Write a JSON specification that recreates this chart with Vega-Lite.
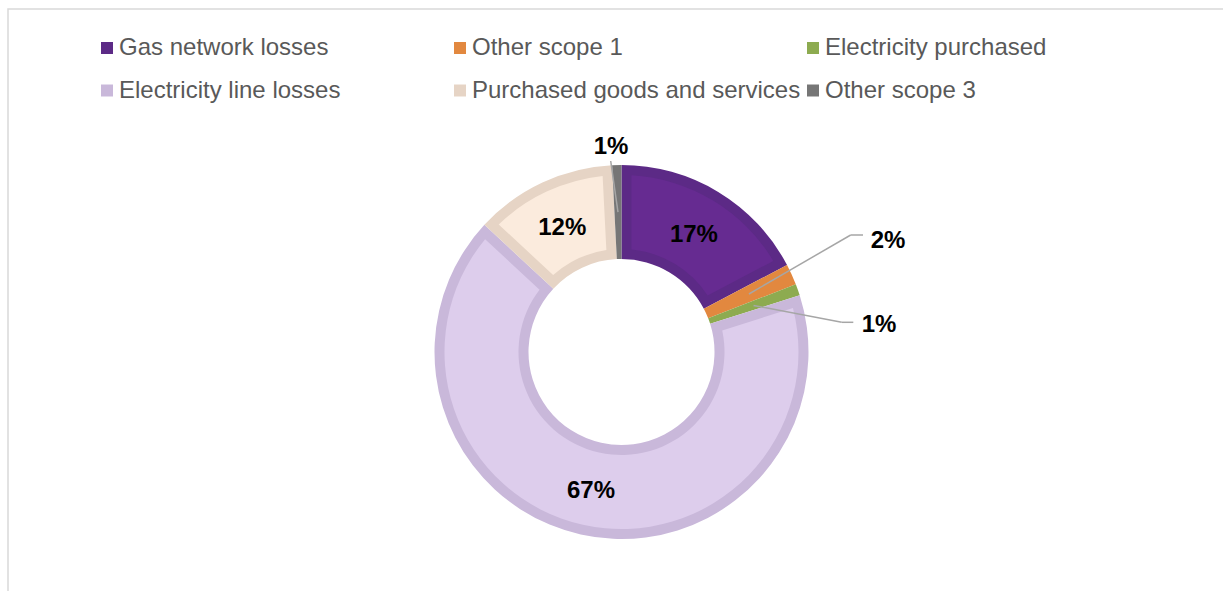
{
  "$schema": "https://vega.github.io/schema/vega-lite/v6.json",
  "width": 1223,
  "height": 591,
  "autosize": {"type": "fit", "contains": "padding"},
  "padding": {"left": 8, "top": 9, "right": -3, "bottom": -3},
  "background": "white",
  "view": {"stroke": "#d9d9d9", "strokeWidth": 1.5},
  "config": {"font": "Liberation Sans"},
  "data": {
    "values": [
      {"category": "Gas network losses", "value": 0.173},
      {"category": "Other scope 1", "value": 0.018},
      {"category": "Electricity purchased", "value": 0.010},
      {"category": "Electricity line losses", "value": 0.668},
      {"category": "Purchased goods and services", "value": 0.123},
      {"category": "Other scope 3", "value": 0.008}
    ]
  },
  "transform": [
    {"window": [{"op": "row_number", "as": "rank"}]},
    {"window": [{"op": "sum", "field": "value", "as": "cumEnd"}], "sort": [{"field": "rank"}], "frame": [null, 0]},
    {"calculate": "datum.cumEnd - datum.value / 2", "as": "mid"},
    {"calculate": "140 * sin(2 * PI * datum.mid)", "as": "sx"},
    {"calculate": "140 * cos(2 * PI * datum.mid)", "as": "sy"}
  ],
  "layer": [
    {
      "mark": {"type": "arc", "radius": 187, "radius2": 93},
      "encoding": {
        "x": {"datum": 0, "type": "quantitative", "scale": {"domain": [-613.5, 604.5], "nice": false, "zero": false}, "axis": null},
        "y": {"datum": 0, "type": "quantitative", "scale": {"domain": [-242, 343], "nice": false, "zero": false}, "axis": null},
        "theta": {"field": "value", "type": "quantitative", "stack": true, "scale": {"domain": [0, 1]}},
        "order": {"field": "rank", "type": "quantitative"},
        "color": {
          "field": "category",
          "type": "nominal",
          "scale": {
            "domain": ["Gas network losses", "Other scope 1", "Electricity purchased", "Electricity line losses", "Purchased goods and services", "Other scope 3"],
            "range": ["#5c2a86", "#e2883f", "#8dab50", "#c9b8da", "#e6d4c5", "#767676"]
          },
          "legend": {
            "orient": "none",
            "legendX": 87,
            "legendY": 27,
            "title": null,
            "columns": 3,
            "direction": "horizontal",
            "gridAlign": "all",
            "columnPadding": -1,
            "rowPadding": 18.5,
            "symbolType": "square",
            "symbolSize": 144,
            "symbolStrokeWidth": 0,
            "labelFontSize": 24,
            "labelFont": "Liberation Sans",
            "labelColor": "#595959",
            "labelOffset": 0,
            "labelLimit": 400
          }
        }
      }
    },
    {
      "mark": {"type": "arc", "radius": 177, "radius2": 103, "padAngle": 0.0977},
      "encoding": {
        "x": {"datum": 0, "type": "quantitative", "scale": {"domain": [-613.5, 604.5], "nice": false, "zero": false}, "axis": null},
        "y": {"datum": 0, "type": "quantitative", "scale": {"domain": [-242, 343], "nice": false, "zero": false}, "axis": null},
        "theta": {"field": "value", "type": "quantitative", "stack": true, "scale": {"domain": [0, 1]}},
        "order": {"field": "rank", "type": "quantitative"},
        "fill": {
          "field": "category",
          "type": "nominal",
          "scale": {
            "domain": ["Gas network losses", "Other scope 1", "Electricity purchased", "Electricity line losses", "Purchased goods and services", "Other scope 3"],
            "range": ["#662b91", "#e2883f", "#8dab50", "#ddcdec", "#fbebdd", "#767676"]
          },
          "legend": null
        }
      }
    },
    {
      "transform": [{"filter": "datum.category == 'Other scope 1'"}],
      "mark": {"type": "rule", "color": "#a6a6a6", "strokeWidth": 1.5},
      "encoding": {
        "x": {"field": "sx", "type": "quantitative", "scale": {"domain": [-613.5, 604.5], "nice": false, "zero": false}, "axis": null},
        "y": {"field": "sy", "type": "quantitative", "scale": {"domain": [-242, 343], "nice": false, "zero": false}, "axis": null},
        "x2": {"datum": 229.2},
        "y2": {"datum": 117}
      }
    },
    {
      "transform": [{"filter": "datum.category == 'Other scope 1'"}],
      "mark": {"type": "rule", "color": "#a6a6a6", "strokeWidth": 1.5},
      "encoding": {
        "x": {"datum": 229.2, "type": "quantitative", "scale": {"domain": [-613.5, 604.5], "nice": false, "zero": false}, "axis": null},
        "y": {"datum": 117, "type": "quantitative", "scale": {"domain": [-242, 343], "nice": false, "zero": false}, "axis": null},
        "x2": {"datum": 241.5},
        "y2": {"datum": 117}
      }
    },
    {
      "transform": [{"filter": "datum.category == 'Electricity purchased'"}],
      "mark": {"type": "rule", "color": "#a6a6a6", "strokeWidth": 1.5},
      "encoding": {
        "x": {"field": "sx", "type": "quantitative", "scale": {"domain": [-613.5, 604.5], "nice": false, "zero": false}, "axis": null},
        "y": {"field": "sy", "type": "quantitative", "scale": {"domain": [-242, 343], "nice": false, "zero": false}, "axis": null},
        "x2": {"datum": 220.2},
        "y2": {"datum": 29.7}
      }
    },
    {
      "transform": [{"filter": "datum.category == 'Electricity purchased'"}],
      "mark": {"type": "rule", "color": "#a6a6a6", "strokeWidth": 1.5},
      "encoding": {
        "x": {"datum": 220.2, "type": "quantitative", "scale": {"domain": [-613.5, 604.5], "nice": false, "zero": false}, "axis": null},
        "y": {"datum": 29.7, "type": "quantitative", "scale": {"domain": [-242, 343], "nice": false, "zero": false}, "axis": null},
        "x2": {"datum": 231.8},
        "y2": {"datum": 29.7}
      }
    },
    {
      "transform": [{"filter": "datum.category == 'Other scope 3'"}],
      "mark": {"type": "rule", "color": "#a6a6a6", "strokeWidth": 1.5},
      "encoding": {
        "x": {"field": "sx", "type": "quantitative", "scale": {"domain": [-613.5, 604.5], "nice": false, "zero": false}, "axis": null},
        "y": {"field": "sy", "type": "quantitative", "scale": {"domain": [-242, 343], "nice": false, "zero": false}, "axis": null},
        "x2": {"datum": -10.8},
        "y2": {"datum": 191}
      }
    },
    {
      "transform": [{"filter": "datum.value > 0.05"}],
      "mark": {"type": "text", "radius": 140, "dy": 2.5, "fontSize": 24, "fontWeight": "bold", "color": "#000000", "align": "center", "baseline": "middle", "font": "Liberation Sans"},
      "encoding": {
        "x": {"datum": 0, "type": "quantitative", "scale": {"domain": [-613.5, 604.5], "nice": false, "zero": false}, "axis": null},
        "y": {"datum": 0, "type": "quantitative", "scale": {"domain": [-242, 343], "nice": false, "zero": false}, "axis": null},
        "theta": {"field": "mid", "type": "quantitative", "stack": null, "scale": {"domain": [0, 1]}},
        "text": {"field": "value", "type": "quantitative", "format": ".0%"}
      }
    },
    {
      "transform": [{"filter": "datum.category == 'Other scope 1'"}],
      "mark": {"type": "text", "dy": 2, "fontSize": 24, "fontWeight": "bold", "color": "#000000", "align": "center", "baseline": "middle", "font": "Liberation Sans"},
      "encoding": {
        "x": {"datum": 266.5, "type": "quantitative", "scale": {"domain": [-613.5, 604.5], "nice": false, "zero": false}, "axis": null},
        "y": {"datum": 113, "type": "quantitative", "scale": {"domain": [-242, 343], "nice": false, "zero": false}, "axis": null},
        "text": {"field": "value", "type": "quantitative", "format": ".0%"}
      }
    },
    {
      "transform": [{"filter": "datum.category == 'Electricity purchased'"}],
      "mark": {"type": "text", "dy": 2, "fontSize": 24, "fontWeight": "bold", "color": "#000000", "align": "center", "baseline": "middle", "font": "Liberation Sans"},
      "encoding": {
        "x": {"datum": 257.5, "type": "quantitative", "scale": {"domain": [-613.5, 604.5], "nice": false, "zero": false}, "axis": null},
        "y": {"datum": 29, "type": "quantitative", "scale": {"domain": [-242, 343], "nice": false, "zero": false}, "axis": null},
        "text": {"field": "value", "type": "quantitative", "format": ".0%"}
      }
    },
    {
      "transform": [{"filter": "datum.category == 'Other scope 3'"}],
      "mark": {"type": "text", "dy": 2, "fontSize": 24, "fontWeight": "bold", "color": "#000000", "align": "center", "baseline": "middle", "font": "Liberation Sans"},
      "encoding": {
        "x": {"datum": -10.5, "type": "quantitative", "scale": {"domain": [-613.5, 604.5], "nice": false, "zero": false}, "axis": null},
        "y": {"datum": 207, "type": "quantitative", "scale": {"domain": [-242, 343], "nice": false, "zero": false}, "axis": null},
        "text": {"field": "value", "type": "quantitative", "format": ".0%"}
      }
    }
  ]
}
